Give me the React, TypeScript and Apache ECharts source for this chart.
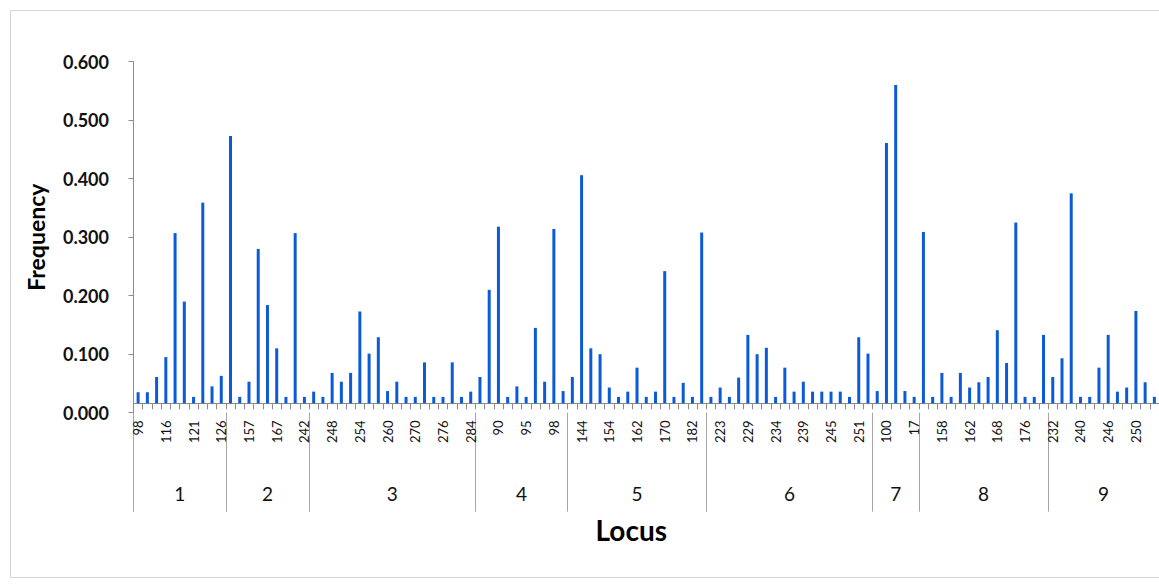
import React, { useEffect, useRef } from "react";
import * as echarts from "echarts";

// Allele labels per locus (only every third label is printed on the axis; unprinted ones are blank)
const locus1 = ["98", "", "", "116", "", "", "121", "", "", "126"];
const locus2 = ["", "", "157", "", "", "167", "", "", "242"];
const locus3 = ["", "", "248", "", "", "254", "", "", "260", "", "", "270", "", "", "276", "", "", "284"];
const locus4 = ["", "", "90", "", "", "95", "", "", "98", ""];
const locus5 = ["", "144", "", "", "154", "", "", "162", "", "", "170", "", "", "182", ""];
const locus6 = ["", "223", "", "", "229", "", "", "234", "", "", "239", "", "", "245", "", "", "251", ""];
const locus7 = ["", "100", "", "", "17"];
const locus8 = ["", "", "158", "", "", "162", "", "", "168", "", "", "176", "", ""];
const locus9 = ["232", "", "", "240", "", "", "246", "", "", "250", "", ""];

const locusNames = ["1", "2", "3", "4", "5", "6", "7", "8", "9"];
const locusAlleles = [locus1, locus2, locus3, locus4, locus5, locus6, locus7, locus8, locus9];

// Allele frequencies per locus
const freq1 = [0.035, 0.035, 0.061, 0.095, 0.307, 0.19, 0.027, 0.359, 0.045, 0.063];
const freq2 = [0.473, 0.027, 0.053, 0.28, 0.184, 0.11, 0.027, 0.307, 0.027];
const freq3 = [0.036, 0.027, 0.068, 0.053, 0.068, 0.173, 0.101, 0.129, 0.037, 0.053, 0.027, 0.027, 0.086, 0.027, 0.027, 0.086, 0.027, 0.036];
const freq4 = [0.061, 0.21, 0.318, 0.027, 0.045, 0.027, 0.145, 0.053, 0.314, 0.037];
const freq5 = [0.061, 0.406, 0.11, 0.1, 0.043, 0.027, 0.036, 0.077, 0.027, 0.036, 0.242, 0.027, 0.051, 0.027, 0.308];
const freq6 = [0.027, 0.043, 0.027, 0.06, 0.133, 0.1, 0.111, 0.027, 0.077, 0.036, 0.053, 0.036, 0.036, 0.036, 0.036, 0.027, 0.129, 0.101];
const freq7 = [0.037, 0.461, 0.56, 0.037, 0.027];
const freq8 = [0.309, 0.027, 0.068, 0.027, 0.068, 0.043, 0.052, 0.061, 0.141, 0.085, 0.325, 0.027, 0.027, 0.133];
const freq9 = [0.061, 0.093, 0.375, 0.027, 0.027, 0.077, 0.133, 0.036, 0.043, 0.174, 0.052, 0.027];
const locusFreqs = [freq1, freq2, freq3, freq4, freq5, freq6, freq7, freq8, freq9];

const yTicks = [0, 0.1, 0.2, 0.3, 0.4, 0.5, 0.6];
const yMax = 0.6;
// the category axis in the original crosses the value axis slightly above 0
const axisCross = 0.016;

export default function App() {
  const ref = useRef<HTMLDivElement>(null);

  useEffect(() => {
    if (!ref.current) return;
    const chart = echarts.init(ref.current, undefined, { renderer: "svg" });

    const categories: string[] = [];
    const values: number[] = [];
    locusAlleles.forEach((a) => a.forEach((c) => categories.push(c)));
    locusFreqs.forEach((f) => f.forEach((v) => values.push(v)));
    const n = categories.length;

    const bounds: number[] = [0];
    locusAlleles.forEach((a) => bounds.push(bounds[bounds.length - 1] + a.length));
    const centers: number[] = locusAlleles.map((_, i) => (bounds[i] + bounds[i + 1]) / 2);
    const centerName = (v: number) => {
      const i = centers.findIndex((c) => Math.abs(c - v) < 1e-6);
      return i >= 0 ? locusNames[i] : "";
    };

    const axisGray = "#8c8c8c";
    const top = 61.7;
    const zeroY = 412.7;
    const plotH = zeroY - top;
    const crossY = zeroY - (axisCross / yMax) * plotH;
    const left = 133.5;
    const width = 1033;

    chart.setOption({
      animation: false,
      backgroundColor: "#ffffff",
      textStyle: { fontFamily: "Lato", color: "#000" },
      grid: [
        { left, top, width, height: plotH, containLabel: false },
        { left, top, width, height: crossY - top, containLabel: false },
      ],
      xAxis: [
        {
          type: "value",
          gridIndex: 0,
          min: 0,
          max: n,
          position: "bottom",
          axisLine: { show: false, onZero: false },
          axisTick: {
            show: true,
            customValues: bounds,
            length: 99,
            lineStyle: { color: "#a6a6a6" },
          },
          axisLabel: {
            show: true,
            customValues: centers,
            formatter: (v: number) => centerName(v),
            margin: 71,
            fontSize: 19,
            lineHeight: 19,
            color: "#111",
            fontFamily: "Lato",
          },
          splitLine: { show: false },
          name: "Locus",
          nameLocation: "middle",
          nameGap: 103,
          nameTextStyle: {
            fontSize: 28,
            fontWeight: "bold",
            color: "#000",
            fontFamily: "Lato",
            padding: [0, 30, 0, 0],
          },
        },
        {
          type: "category",
          gridIndex: 1,
          data: categories,
          boundaryGap: true,
          position: "bottom",
          axisLine: { onZero: false, lineStyle: { color: axisGray, width: 1 } },
          axisTick: { show: true, interval: 0, length: 6, lineStyle: { color: axisGray } },
          axisLabel: {
            interval: 2,
            rotate: 90,
            margin: 17,
            fontSize: 13,
            color: "#111",
            fontFamily: "Lato",
          },
          splitLine: { show: false },
        },
      ],
      yAxis: [
        {
          type: "value",
          gridIndex: 0,
          min: 0,
          max: yMax,
          interval: 0.1,
          offset: 7.5,
          axisLine: { show: true, lineStyle: { color: axisGray } },
          axisTick: { show: true, length: 5, lineStyle: { color: axisGray } },
          axisLabel: {
            formatter: (v: number) => (yTicks.some((t) => Math.abs(t - v) < 1e-9) ? v.toFixed(3) : ""),
            margin: 17,
            fontSize: 18,
            fontWeight: "bold",
            color: "#111",
            fontFamily: "Lato",
          },
          splitLine: { show: false },
          name: "Frequency",
          nameLocation: "middle",
          nameRotate: 90,
          nameGap: 79,
          nameTextStyle: { fontSize: 23, fontWeight: "bold", color: "#000", fontFamily: "Lato" },
        },
        {
          type: "value",
          gridIndex: 1,
          min: axisCross,
          max: yMax,
          show: false,
          splitLine: { show: false },
        },
      ],
      series: [
        {
          type: "bar",
          name: "Frequency",
          data: values,
          xAxisIndex: 1,
          yAxisIndex: 1,
          barWidth: 3,
          clip: true,
          itemStyle: { color: "#0b5bd8" },
        },
      ],
      graphic: [
        {
          type: "rect",
          shape: { x: 10.5, y: 10.5, width: 1170, height: 567 },
          style: { fill: "none", stroke: "#d4d4d4", lineWidth: 1 },
          silent: true,
          z: -1,
        },
      ],
    });

    return () => chart.dispose();
  }, []);

  return (
    <div
      ref={ref}
      style={{ position: "absolute", left: 0, top: 0, width: 1159, height: 586, background: "#fff" }}
    />
  );
}
